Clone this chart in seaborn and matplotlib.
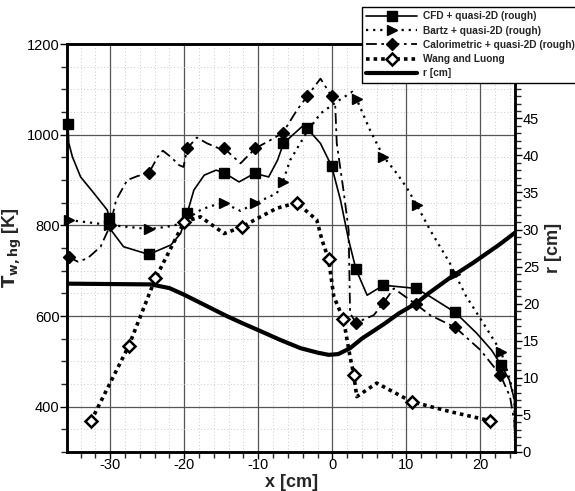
import numpy as np
import seaborn as sns
import matplotlib.pyplot as plt
from matplotlib.lines import Line2D
from matplotlib.ticker import MultipleLocator

# wall temperature curves, x [cm] and T_w,hg [K]
cfd_x = [-35.7, -35.6, -35.1, -34.0, -32.2, -30.4, -30.1, -29.9, -28.2, -24.8, -21.8, -20.5,
         -19.6, -18.7, -17.3, -15.7, -14.6, -12.6, -10.5, -8.6, -7.4, -6.6, -5.6, -4.1, -3.4,
         -1.6, -0.7, -0.1, 0.4, 1.1, 2.2, 3.2, 4.7, 6.9, 11.3, 13.2, 16.6, 19.5, 21.5, 22.8,
         23.9, 24.6, 24.7, 24.7]
cfd_T = [1023, 982, 951, 907, 871, 834, 816, 790, 753, 736, 757, 782,
         827, 878, 911, 922, 916, 896, 915, 907, 944, 981, 996, 1018, 1014,
         981, 951, 931, 900, 856, 768, 703, 646, 668, 661, 643, 608, 562, 525, 492,
         459, 415, 342, 290]
cfd_mx = [-35.7, -30.1, -24.8, -19.6, -14.6, -10.5, -6.6, -3.4, -0.1, 3.2, 6.9, 11.3, 16.6, 22.8]
cfd_mT = [1023, 816, 736, 827, 916, 915, 981, 1014, 931, 703, 668, 661, 608, 492]

bartz_x = [-35.6, -30.1, -24.8, -22.3, -20.4, -19.6, -17.8, -16.4, -14.6, -12.4, -10.4, -7.5,
           -6.7, -5.7, -3.4, -1.6, 0.0, 0.6, 2.7, 3.3, 5.1, 6.9, 8.7, 10.1, 11.4, 13.2, 15.9,
           16.6, 18.1, 20.4, 22.8, 24.0, 24.6, 24.7]
bartz_T = [812, 801, 792, 797, 804, 815, 834, 843, 849, 832, 849, 871,
           896, 944, 1007, 1047, 1066, 1073, 1095, 1078, 1010, 952, 915, 882, 845, 790, 716,
           692, 643, 584, 521, 459, 415, 290]
bartz_mx = [-35.6, -30.1, -24.8, -14.6, -10.4, -6.7, 3.3, 6.9, 11.4, 16.6, 22.8]
bartz_mT = [812, 801, 792, 849, 849, 896, 1078, 952, 845, 692, 521]

calo_x = [-35.6, -34.4, -33.1, -31.3, -30.0, -29.2, -27.7, -26.3, -24.8, -23.6, -22.9, -21.8,
          -20.7, -20.1, -19.6, -18.3, -16.9, -15.3, -14.6, -12.4, -10.4, -8.4, -6.7, -4.8,
          -3.4, -1.6, -0.1, 0.4, 0.6, 1.5, 2.2, 2.4, 3.2, 5.6, 6.9, 8.3, 11.3, 13.2, 16.6,
          20.0, 22.7, 24.0, 24.6, 24.7]
calo_T = [731, 720, 727, 753, 800, 856, 900, 909, 915, 951, 965, 951,
          933, 929, 970, 994, 981, 970, 970, 937, 970, 988, 1004, 1054,
          1085, 1124, 1085, 1062, 981, 878, 790, 606, 585, 602, 629, 661, 626, 602, 575,
          525, 470, 422, 364, 290]
calo_mx = [-35.6, -30.0, -24.8, -19.6, -14.6, -10.4, -6.7, -3.4, -0.1, 3.2, 6.9, 11.3, 16.6, 22.7]
calo_mT = [731, 800, 915, 970, 970, 970, 1004, 1085, 1085, 585, 629, 626, 575, 470]

wang_x = [-32.6, -27.5, -23.9, -20.0, -17.8, -14.6, -12.2, -9.7, -7.5, -4.8, -2.1, -1.4,
          -0.5, 0.2, 1.5, 2.4, 2.9, 3.3, 6.0, 10.7, 15.9, 21.3]
wang_T = [368, 534, 683, 808, 819, 782, 797, 819, 838, 850, 812, 768,
          725, 643, 593, 510, 470, 422, 452, 411, 389, 369]
wang_mx = [-32.6, -27.5, -23.9, -20.0, -12.2, -4.8, -0.5, 1.5, 2.9, 10.7, 21.3]
wang_mT = [368, 534, 683, 808, 797, 850, 725, 593, 470, 411, 369]

# nozzle contour radius r [cm]
r_x = [-35.7, -24.5, -22.0, -20.0, -17.0, -14.2, -12.0, -9.7, -7.0, -4.3, -2.0, -0.5, 0.8,
       2.4, 4.0, 6.9, 9.0, 11.4, 13.0, 15.9, 19.0, 22.6, 24.7]
r_v = [22.7, 22.6, 22.1, 21.2, 19.7, 18.3, 17.3, 16.3, 15.1, 14.0, 13.4, 13.1, 13.2,
       14.0, 15.3, 17.2, 18.7, 20.1, 21.4, 23.5, 25.5, 28.0, 29.6]

labels = ["CFD + quasi-2D (rough)", "Bartz + quasi-2D (rough)",
          "Calorimetric + quasi-2D (rough)", "Wang and Luong", "r [cm]"]

sns.set_theme(style="white")
plt.rcParams['font.family'] = ['Liberation Sans', 'DejaVu Sans']
plt.rcParams['axes.unicode_minus'] = False

fig = plt.figure(figsize=(5.75, 4.91), dpi=100)
ax = fig.add_axes([0.117, 0.0795, 0.779, 0.8305])
ax2 = ax.twinx()

k = "black"
styles = [
    dict(ls="-", lw=1.2, marker="s", ms=6.5, mfc=k),
    dict(ls=(0, (1, 2.2)), lw=1.6, marker=">", ms=6.5, mfc=k),
    dict(ls=(0, (6, 2.5, 1.5, 2.5)), lw=1.3, marker="D", ms=6, mfc=k),
    dict(ls=(0, (1, 1.1)), lw=2.6, marker="D", ms=6.5, mfc="white"),
]
series = [(cfd_x, cfd_T, cfd_mx, cfd_mT), (bartz_x, bartz_T, bartz_mx, bartz_mT),
          (calo_x, calo_T, calo_mx, calo_mT), (wang_x, wang_T, wang_mx, wang_mT)]

for (lx, ly, mx, my), st in zip(series, styles):
    sns.lineplot(x=lx, y=ly, ax=ax, color=k, linestyle=st["ls"], linewidth=st["lw"],
                 sort=False, estimator=None, zorder=3)
    ax.plot(mx, my, linestyle="none", marker=st["marker"], ms=st["ms"], mfc=st["mfc"],
            mec=k, mew=1.8 if st["mfc"] == "white" else 1.0, zorder=4, clip_on=False)

sns.lineplot(x=r_x, y=r_v, ax=ax2, color=k, linewidth=3.0, sort=False, estimator=None)

ax.set_xlim(-35.8, 24.7)
ax.set_ylim(300, 1200)

ax.xaxis.set_major_locator(MultipleLocator(10))
ax.xaxis.set_minor_locator(MultipleLocator(2))
ax.yaxis.set_major_locator(MultipleLocator(200))
ax.yaxis.set_minor_locator(MultipleLocator(50))
ax2.set_yticks(np.arange(0, 50, 5))
ax2.yaxis.set_minor_locator(MultipleLocator(1))
ax2.set_ylim(0, 55)

ax.grid(True, which="major", color="#555555", lw=0.9, ls="-")
ax.grid(True, which="minor", color="#bbbbbb", lw=0.6, ls=(0, (1, 3)))
ax.set_axisbelow(True)
ax2.grid(False)

for a in (ax, ax2):
    for s in a.spines.values():
        s.set_linewidth(1.8)
        s.set_color(k)
ax.tick_params(which="major", direction="out", length=5, width=1.0, labelsize=10.5,
               left=True, bottom=True, colors=k)
ax.tick_params(axis="x", which="major", pad=-0.5)
ax.tick_params(axis="y", which="major", pad=0.5)
ax.tick_params(which="minor", direction="out", length=4, width=1.0, left=True, bottom=True)
ax2.tick_params(which="major", direction="out", length=5, width=1.0, labelsize=10.5,
                right=True, pad=0.5, colors=k)
ax2.tick_params(which="minor", direction="out", length=4, width=1.0, right=True)

ax.set_xlabel("x [cm]", fontsize=13, fontweight="bold", labelpad=1)
ax.set_ylabel(r"$\mathbf{T_{w,hg}}$ [K]", fontsize=13, fontweight="bold", labelpad=2)
ax2.set_ylabel("r [cm]", fontsize=13, fontweight="bold", labelpad=4)

handles = [Line2D([], [], color=k, linestyle=st["ls"], linewidth=st["lw"], marker=st["marker"],
                  ms=st["ms"], mfc=st["mfc"], mec=k, mew=1.8 if st["mfc"] == "white" else 1.0)
           for st in styles]
handles.append(Line2D([], [], color=k, linewidth=3.0))
leg = fig.legend(handles, labels, loc="upper left", bbox_to_anchor=(0.630, 0.985),
                 frameon=True, fancybox=False, framealpha=1, edgecolor=k,
                 prop=dict(size=7.3, weight="bold"), handlelength=5.0, labelspacing=0.42,
                 borderpad=0.4, handletextpad=0.6, borderaxespad=0)
leg.get_frame().set_linewidth(1.0)

plt.savefig("out.png", dpi=100)
